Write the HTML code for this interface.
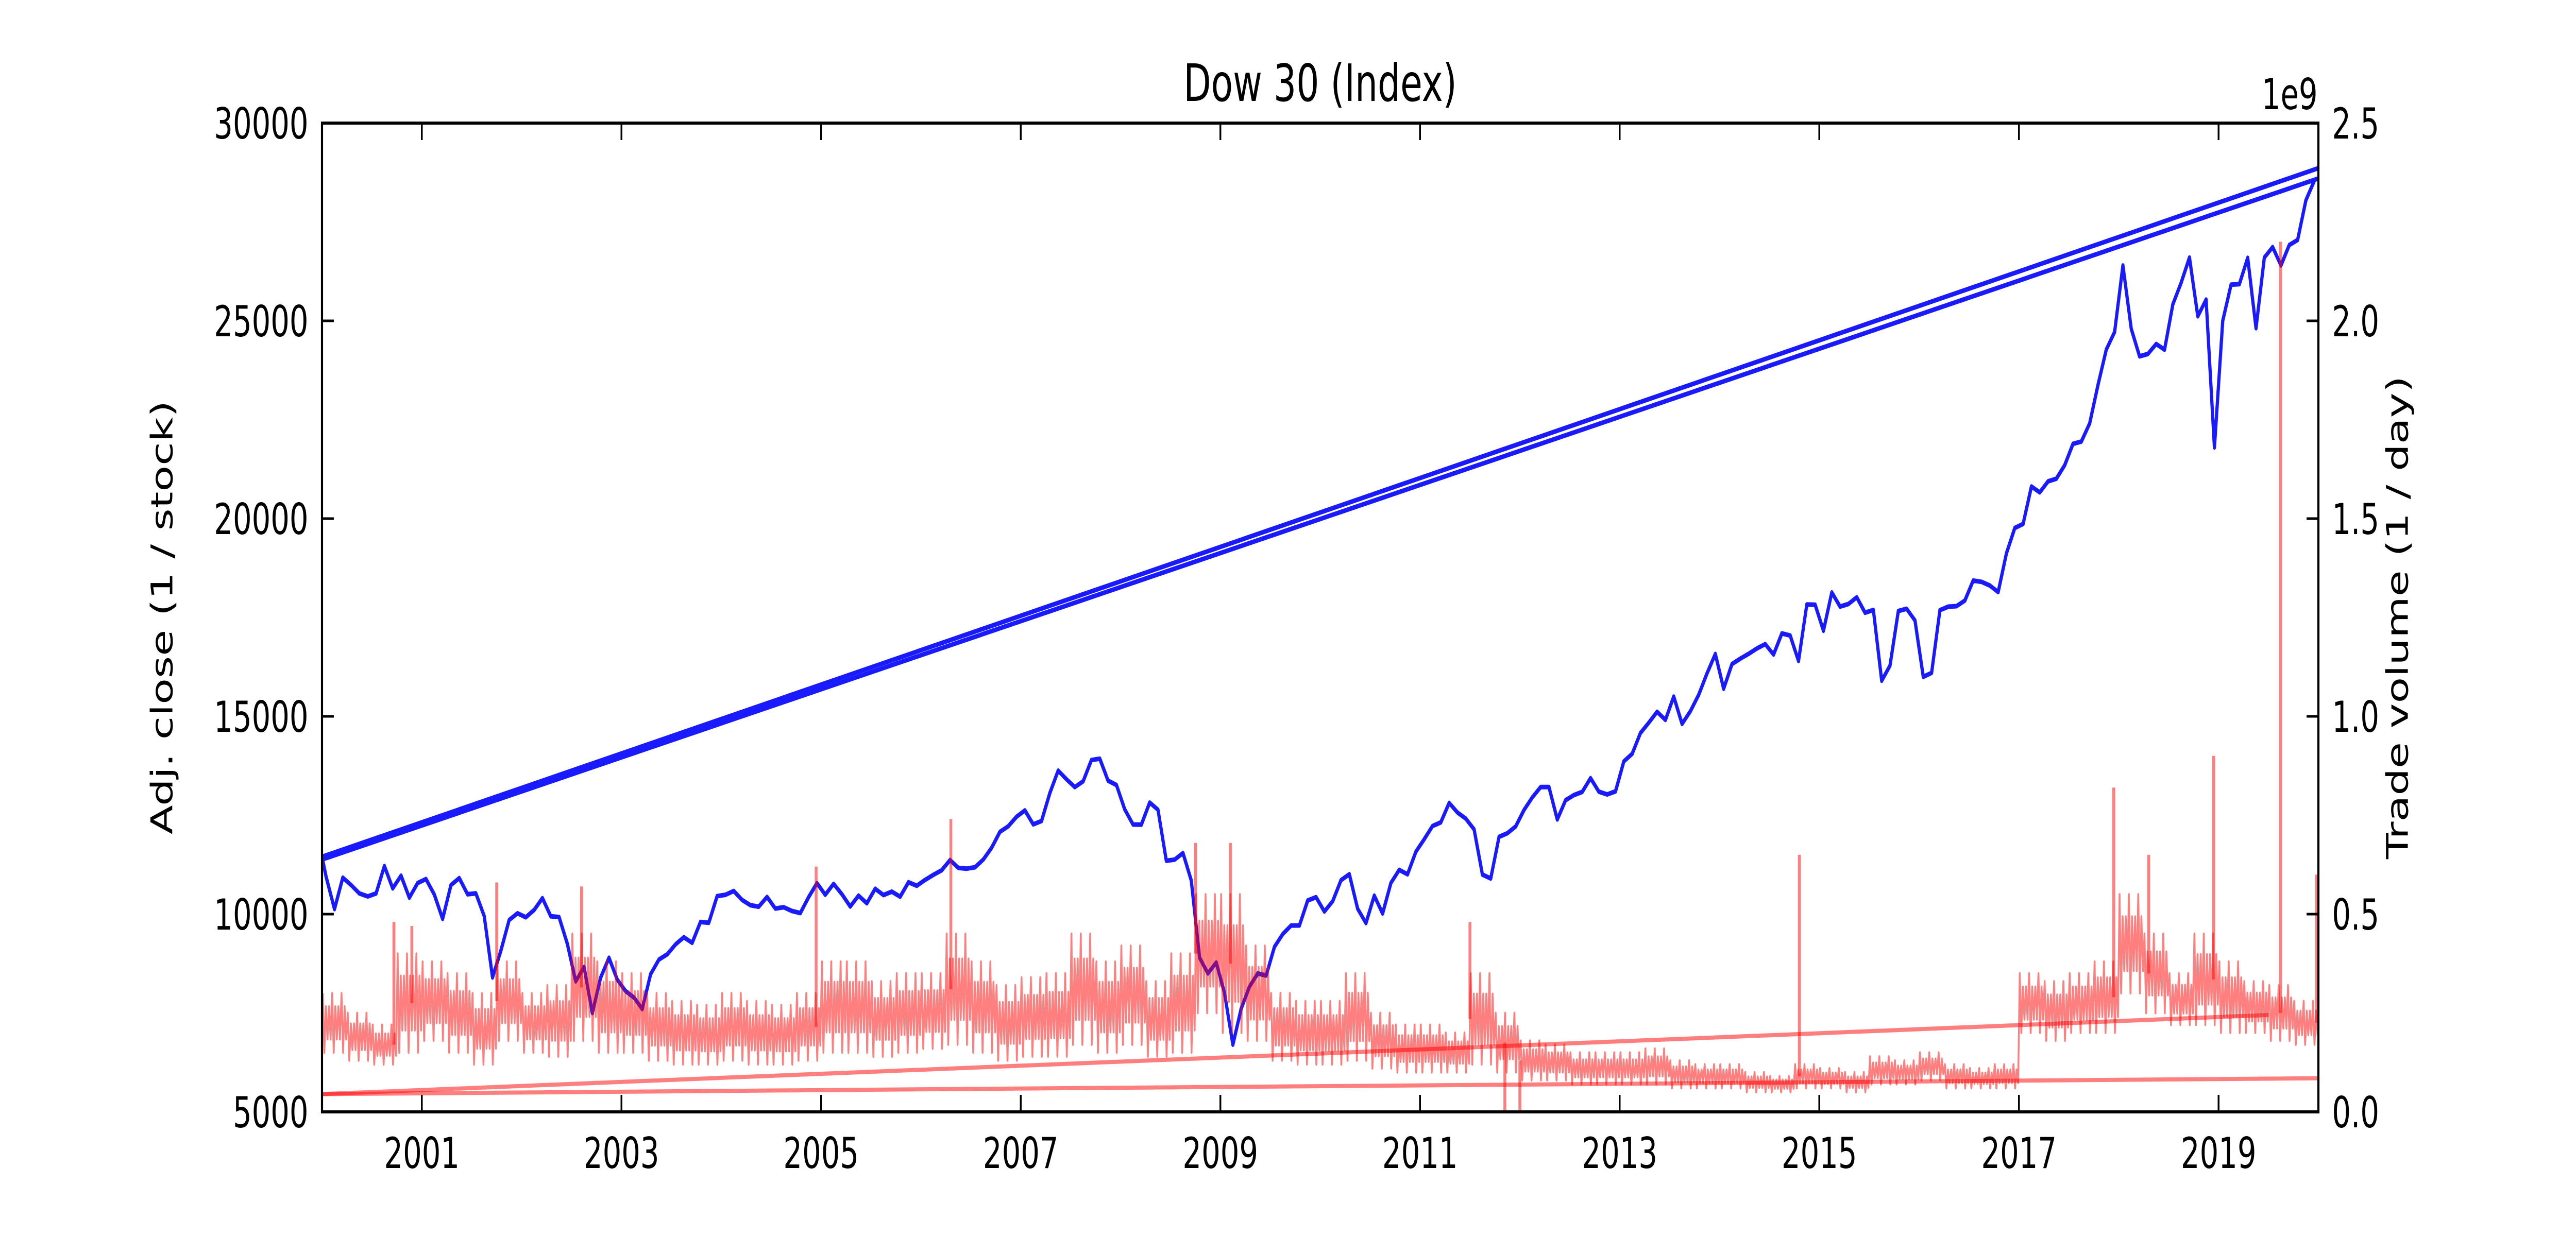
<!DOCTYPE html>
<html><head><meta charset="utf-8"><style>
html,body{margin:0;padding:0;background:#fff;width:100%;height:100%;overflow:hidden;}
svg{display:block;width:100vw;height:100vh;font-family:"DejaVu Sans","Liberation Sans",sans-serif;}
</style></head><body>
<svg id="chart" xmlns="http://www.w3.org/2000/svg" viewBox="0 0 7200 2400" preserveAspectRatio="none">
<rect x="0" y="0" width="7200" height="2400" fill="#fff"/>
<g id="marks"></g>
<g id="axes"></g>
<text x="3690" y="196" font-size="100" text-anchor="middle">Dow 30 (Index)</text>
<text transform="translate(482,1199) rotate(-90)" font-size="83" text-anchor="middle">Adj. close (1 / stock)</text>
<text transform="translate(6730,1199) rotate(-90)" font-size="83" text-anchor="middle">Trade volume (1 / day)</text>
<text x="6478" y="212" font-size="83" text-anchor="end">1e9</text>
</svg>
<script>
const closeValues = [
10940,10128,10922,10734,10522,10448,10522,11215,10651,10971,10415,10787,
10887,10495,9879,10735,10912,10502,10523,9950,8400,9075,9852,10021,
9920,10106,10404,9946,9925,9243,8300,8664,7500,8397,8896,8342,
8054,7891,7600,8480,8850,8985,9234,9416,9275,9801,9782,10454,
10488,10584,10358,10226,10188,10435,10140,10174,10080,10027,10428,10783,
10490,10766,10504,10193,10467,10275,10641,10482,10569,10440,10806,10718,
10865,10993,11109,11367,11168,11150,11185,11381,11679,12081,12222,12463,
12622,12269,12354,13063,13628,13409,13212,13358,13896,13930,13372,13265,
12650,12266,12263,12820,12638,11350,11378,11544,10851,8900,8500,8776,
8001,6700,7609,8168,8500,8447,9172,9496,9712,9713,10345,10428,
10067,10325,10857,11009,10137,9774,10466,10015,10788,11118,11006,11578,
11892,12226,12320,12811,12570,12414,12143,11000,10900,11955,12046,12218,
12633,12952,13212,13214,12393,12880,13009,13091,13437,13096,13026,13104,
13861,14054,14579,14840,15116,14910,15500,14810,15130,15546,16086,16577,
15699,16322,16458,16581,16717,16827,16563,17098,17043,16400,17828,17823,
17165,18133,17776,17841,18011,17620,17690,15900,16285,17664,17720,17425,
16000,16100,17685,17774,17787,17930,18432,18401,18308,18142,19124,19763,
19864,20812,20663,20941,21009,21350,21891,21948,22405,23377,24272,24719,
26400,24800,24103,24163,24416,24271,25415,25965,26600,25116,25538,21800,
25000,25916,25929,26593,24815,26600,26864,26403,26917,27046,28051,28538];
const closeStartYear = 2000;
const blueWrapStart = [[2000.0,11450],[2000.0,11380]];
const blueWrapEnd = [[2020.0,28860],[2020.0,28600]];
const volLo = [0.15,0.13,0.12,0.15, 0.18,0.15,0.12,0.18, 0.15,0.14,0.18,0.15, 0.15,0.13,0.12,0.12,
 0.13,0.12,0.12,0.13, 0.15,0.15,0.14,0.15, 0.16,0.17,0.15,0.13, 0.14,0.14,0.17,0.15,
 0.17,0.14,0.15,0.25, 0.2,0.18,0.13,0.12, 0.12,0.13,0.11,0.1, 0.1,0.1,0.12,0.1,
 0.08,0.08,0.07,0.07, 0.07,0.07,0.06,0.06, 0.06,0.05,0.05,0.06, 0.06,0.05,0.07,0.07,
 0.08,0.06,0.06,0.06, 0.2,0.18,0.2,0.2, 0.3,0.25,0.22,0.22, 0.2,0.2,0.18,0.17];
const volHi = [0.3,0.25,0.22,0.4, 0.38,0.35,0.3,0.38, 0.3,0.32,0.45,0.38, 0.35,0.3,0.28,0.27,
 0.3,0.28,0.27,0.3, 0.38,0.38,0.33,0.35, 0.35,0.45,0.38,0.32, 0.34,0.35,0.45,0.38,
 0.42,0.33,0.4,0.55, 0.55,0.42,0.3,0.28, 0.28,0.35,0.25,0.22, 0.22,0.2,0.35,0.25,
 0.18,0.17,0.15,0.15, 0.15,0.16,0.13,0.12, 0.12,0.1,0.09,0.12, 0.11,0.1,0.14,0.13,
 0.15,0.12,0.11,0.12, 0.35,0.33,0.35,0.38, 0.55,0.45,0.35,0.45, 0.38,0.33,0.32,0.28];
const spikeYears = [2000.72,2000.9,2001.75,2002.6,2004.95,2006.3,2008.75,2009.1,2011.5,2014.8,2017.95,2018.3,2018.95,2019.62,2019.98,2011.85,2012.0];
const spikeValues = [0.48,0.47,0.58,0.57,0.62,0.74,0.68,0.68,0.48,0.65,0.82,0.65,0.9,2.2,0.6,0.0,0.0];
const redWrapStart = [[2000.0,0.045],[2000.0,0.045]];
const redWrapEnd = [[2019.5,0.245],[2020.0,0.085]];
const xTicks = [2001,2003,2005,2007,2009,2011,2013,2015,2017,2019];
const leftTicks = [5000,10000,15000,20000,25000,30000];
const rightTicks = [0.0,0.5,1.0,1.5,2.0,2.5];

const L=900,R=6480,T=239,B=2159;
const NS="http://www.w3.org/2000/svg";
function xs(y){return L+(y-2000)/20*(R-L);}
function yl(v){return B-(v-5000)/25000*(B-T);}
function yr(v){return B-v/2.5*(B-T);}
function mk(tag,attrs,parent){const e=document.createElementNS(NS,tag);for(const k in attrs)e.setAttribute(k,attrs[k]);parent.appendChild(e);return e;}
const marks=document.getElementById('marks');
const axes=document.getElementById('axes');
const clip=mk('clipPath',{id:'pc'},marks);mk('rect',{x:L,y:T,width:R-L,height:B-T},clip);
const g=mk('g',{'clip-path':'url(#pc)'},marks);

let pts=[[xs(blueWrapStart[0][0]),yl(blueWrapStart[0][1])]];
closeValues.forEach((v,i)=>pts.push([xs(closeStartYear+(i+0.5)/12),yl(v)]));
let d='M'+pts.map(p=>p[0].toFixed(1)+','+p[1].toFixed(1)).join(' L');
const bl=mk('path',{d:d,fill:'none',stroke:'#1a1aff','stroke-width':9,'stroke-linejoin':'round'},g);


for(let k=0;k<blueWrapStart.length;k++){
 const w=mk('line',{x1:xs(blueWrapStart[k][0]),y1:yl(blueWrapStart[k][1]),x2:xs(blueWrapEnd[k][0]),y2:yl(blueWrapEnd[k][1]),stroke:'#1a1aff','stroke-width':9},g);
 
 
}
let vp=[];
volLo.forEach((lo,q)=>{const hi=volHi[q];const n=8;for(let s=0;s<n;s++){const a=(s%3===0)?1:0.55;const mid=(hi+lo)/2;vp.push([xs(2000+q/4+(s+0.25)/(4*n)),yr(mid+(hi-mid)*a)]);vp.push([xs(2000+q/4+(s+0.75)/(4*n)),yr(mid-(mid-lo)*a)]);}});
let vd='M'+vp.map(p=>p[0].toFixed(1)+','+p[1].toFixed(1)).join(' L');
const vl=mk('path',{d:vd,fill:'none',stroke:'#ff0000','stroke-opacity':0.5,'stroke-width':5,'stroke-linejoin':'round'},g);


spikeYears.forEach((yy,i)=>{
 const q=Math.min(79,Math.floor((yy-2000)*4));
 const s=mk('line',{x1:xs(yy),y1:yr((volLo[q]+volHi[q])/2),x2:xs(yy),y2:yr(spikeValues[i]),stroke:'#ff0000','stroke-opacity':0.5,'stroke-width':8},g);
 
 
});
for(let k=0;k<redWrapStart.length;k++){
 const w=mk('line',{x1:xs(redWrapStart[k][0]),y1:yr(redWrapStart[k][1]),x2:xs(redWrapEnd[k][0]),y2:yr(redWrapEnd[k][1]),stroke:'#ff0000','stroke-opacity':0.5,'stroke-width':8},g);
 
 
}
const fr=mk('rect',{x:L,y:T,width:R-L,height:B-T,fill:'none',stroke:'#000','stroke-width':6},axes);


xTicks.forEach(t=>{
 const x=xs(t);
 mk('line',{x1:x,y1:B,x2:x,y2:B-33,stroke:'#000','stroke-width':5},axes);
 mk('line',{x1:x,y1:T,x2:x,y2:T+33,stroke:'#000','stroke-width':5},axes);
 const tx=mk('text',{x:x,y:2268,'font-size':83,'text-anchor':'middle'},axes);
 tx.textContent=t;
 
 
});
leftTicks.forEach(t=>{
 const y=yl(t);
 mk('line',{x1:L,y1:y,x2:L+33,y2:y,stroke:'#000','stroke-width':5},axes);
 const tx=mk('text',{x:862,y:y+30,'font-size':83,'text-anchor':'end'},axes);
 tx.textContent=t;
 
 
});
rightTicks.forEach(t=>{
 const y=yr(t);
 mk('line',{x1:R,y1:y,x2:R-33,y2:y,stroke:'#000','stroke-width':5},axes);
 const tx=mk('text',{x:6518,y:y+30,'font-size':83,'text-anchor':'start'},axes);
 tx.textContent=t.toFixed(1);
 
 
});
</script>
</body></html>
